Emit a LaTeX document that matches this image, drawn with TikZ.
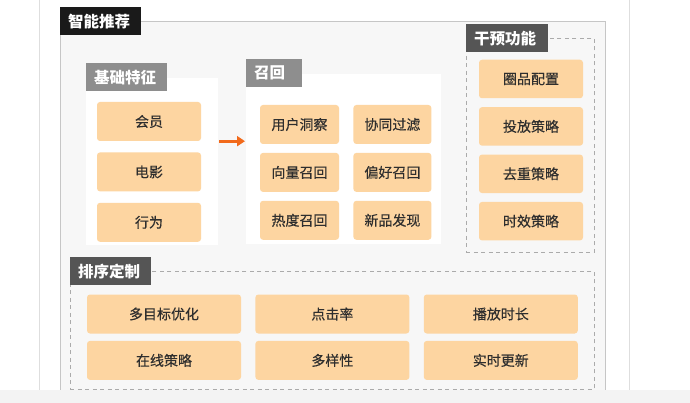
\documentclass[tikz,border=0pt]{standalone}
\usepackage{fontspec}
\setmainfont{Noto Sans CJK SC}
\newfontfamily\itemfont{Noto Sans CJK SC}[FakeBold=0.35]
\usetikzlibrary{positioning, arrows.meta}
\definecolor{peach}{HTML}{FDD5A1}
\definecolor{ink}{HTML}{2E2E2E}
\definecolor{framebg}{HTML}{F7F7F7}
\definecolor{framegray}{HTML}{C6C6C6}
\definecolor{dashgray}{HTML}{ABABAB}
\definecolor{taglight}{HTML}{8E8E8E}
\definecolor{tagdark}{HTML}{555555}
\definecolor{tagblack}{HTML}{1A1A1A}
\definecolor{arroworange}{HTML}{F26A1B}
\definecolor{bandgray}{HTML}{F3F3F3}
\definecolor{pageline}{HTML}{DEDEDE}

\begin{document}
\begin{tikzpicture}[x=1pt, y=-1pt, node distance=11pt,
  item/.style={fill=peach, rounded corners=3pt, minimum height=39pt, inner sep=0pt, text=ink, font=\itemfont\fontsize{14}{14}\selectfont},
  tag/.style={anchor=north west, text=white, minimum height=28pt, inner xsep=8pt, inner ysep=0pt, align=left, font=\fontsize{15.5}{16}\selectfont\bfseries},
  panel/.style={anchor=north west, inner sep=0pt},
  dashbox/.style={panel, draw=dashgray, line width=0.8pt, dash pattern=on 4pt off 3.5pt}]
  \useasboundingbox (0,0) rectangle (690,403);
  \fill[white] (0,0) rectangle (690,403);
  \draw[pageline, line width=1pt] (39,0) -- (39,390);
  \draw[pageline, line width=1pt] (629,0) -- (629,390);

  \node[panel, fill=framebg, draw=framegray, line width=1pt, minimum width=545pt, minimum height=372pt] (frame) at (60,21) {};
  \fill[bandgray] (0,390) rectangle (690,403);
  \node[tag, fill=tagblack, text width=65pt] (frame tag) at (60,7) {智能推荐};

  \node[panel, fill=white, minimum width=132pt, minimum height=167pt] (feature box) at (86,78) {};
  \node[tag, fill=taglight, text width=65pt] (feature tag) at (86,63) {基础特征};
  \node[panel, fill=white, minimum width=195pt, minimum height=170pt] (recall box) at (246,74) {};
  \node[tag, fill=taglight, text width=40pt] (recall tag) at (246,59) {召回};
  \node[dashbox, minimum width=128pt, minimum height=214pt] (control box) at (466,38) {};
  \node[tag, fill=tagdark, text width=66pt] (control tag) at (466,24) {干预功能};
  \node[dashbox, minimum width=524pt, minimum height=118pt] (rank box) at (70,271) {};
  \node[tag, fill=tagdark, text width=65pt] (rank tag) at (70,257) {排序定制};

  \node[item, minimum width=104pt]                   (member)   at (149,121.5) {会员};
  \node[item, minimum width=104pt, below=of member]  (movie)    {电影};
  \node[item, minimum width=104pt, below=of movie]   (behavior) {行为};

  \node[item, minimum width=79pt]                         (insight) at (299.5,124.5) {用户洞察};
  \node[item, minimum width=79pt, below=8.5pt of insight] (vector)  {向量召回};
  \node[item, minimum width=79pt, below=8.5pt of vector]  (hot)     {热度召回};
  \node[item, minimum width=78pt, right=14pt of insight]  (cf)      {协同过滤};
  \node[item, minimum width=78pt, right=14pt of vector]   (prefer)  {偏好召回};
  \node[item, minimum width=78pt, right=14pt of hot]      (fresh)   {新品发现};

  \node[item, minimum width=104pt, minimum height=38.5pt]                         (pool)    at (531,79) {圈品配置};
  \node[item, minimum width=104pt, minimum height=38.5pt, below=8.5pt of pool]    (deliver) {投放策略};
  \node[item, minimum width=104pt, minimum height=38.5pt, below=8.5pt of deliver] (dedup)   {去重策略};
  \node[item, minimum width=104pt, minimum height=38.5pt, below=8.5pt of dedup]   (timely)  {时效策略};

  \node[item, minimum width=154pt]                     (multi)    at (164,314) {多目标优化};
  \node[item, minimum width=154pt, right=14pt of multi] (ctr)      {点击率};
  \node[item, minimum width=154pt, right=14pt of ctr]   (duration) {播放时长};
  \node[item, minimum width=154pt, below=7pt of multi]  (online)   {在线策略};
  \node[item, minimum width=154pt, below=7pt of ctr]    (variety)  {多样性};
  \node[item, minimum width=154pt, below=7pt of duration] (realtime) {实时更新};

  \draw[-{Triangle[length=8pt, width=10pt]}, arroworange, line width=3pt] ([xshift=1pt]feature box.east |- member.south) -- ([xshift=-1pt]recall box.west |- member.south);
\end{tikzpicture}
\end{document}
